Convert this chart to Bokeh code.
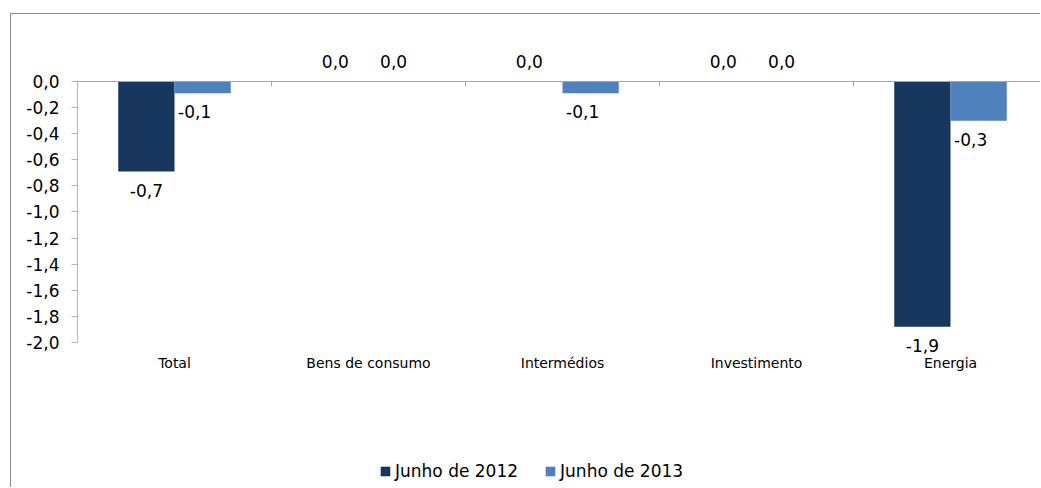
from bokeh.plotting import figure
from bokeh.models import (ColumnDataSource, Range1d, FixedTicker, LinearAxis,
                          LabelSet, Legend, LegendItem)
from bokeh.core.properties import value
from bokeh.transform import dodge
from bokeh.embed import file_html
from bokeh.resources import INLINE

# ---------------- data ----------------
categories = ["Total", "Bens de consumo", "Intermédios", "Investimento", "Energia"]
junho_2012 = [-0.69, 0.0, 0.0, 0.0, -1.88]
junho_2013 = [-0.09, 0.0, -0.09, 0.0, -0.30]
series_names = ["Junho de 2012", "Junho de 2013"]
y_ticks = [0.0, -0.2, -0.4, -0.6, -0.8, -1.0, -1.2, -1.4, -1.6, -1.8, -2.0]
y_tick_labels = ["0,0", "-0,2", "-0,4", "-0,6", "-0,8", "-1,0",
                 "-1,2", "-1,4", "-1,6", "-1,8", "-2,0"]

# ---------------- style ----------------
FONT = "DejaVu Sans"
DARK = "#17375E"
LIGHT = "#4F81BD"
TXT = "#000000"
AXC = "#b4b4b4"
BAR_W = 0.29
OFF = 0.145
Y_MIN, Y_MAX = y_ticks[-1], y_ticks[0]

p = figure(width=1030, height=474,
           x_range=Range1d(-0.5, 4.469), y_range=Range1d(-3.1188, 0.5134),
           output_backend="svg", toolbar_location=None,
           x_axis_location=None, y_axis_location=None,
           min_border_left=66, min_border_top=0,
           min_border_right=0, min_border_bottom=0)
p.outline_line_color = None
p.grid.visible = False
p.background_fill_color = "white"
p.border_fill_color = "white"
p.margin = (13, 0, 0, 10)
p.styles = {"border-top": "1px solid #8c8c8c", "border-left": "1px solid #8c8c8c"}

# y axis
yaxis = LinearAxis(ticker=FixedTicker(ticks=y_ticks), bounds=(Y_MIN, Y_MAX),
                   major_label_overrides=dict(zip(y_ticks, y_tick_labels)),
                   axis_line_color=AXC, major_tick_line_color=AXC,
                   major_tick_out=6, major_tick_in=0,
                   minor_tick_line_color=None,
                   major_label_standoff=12,
                   major_label_text_font=FONT,
                   major_label_text_font_size="17px",
                   major_label_text_color=TXT)
p.add_layout(yaxis, "left")

# category labels at the bottom of the value axis
cat_pos = list(range(len(categories)))
xaxis = LinearAxis(ticker=FixedTicker(ticks=cat_pos), fixed_location=Y_MIN,
                   major_label_overrides=dict(zip(cat_pos, categories)),
                   axis_line_color=None, major_tick_line_color=None,
                   minor_tick_line_color=None,
                   major_label_standoff=7,
                   major_label_text_font=FONT,
                   major_label_text_font_size="14px",
                   major_label_text_color=TXT)
p.add_layout(xaxis, "below")

# zero line with category separators
zaxis = LinearAxis(ticker=FixedTicker(ticks=[i + 0.5 for i in cat_pos]),
                   fixed_location=0,
                   axis_line_color="#a6a6a6", major_tick_line_color="#a6a6a6",
                   major_tick_in=0, major_tick_out=5,
                   minor_tick_line_color=None,
                   major_label_text_font_size="0px",
                   major_label_text_color=None)
p.add_layout(zaxis, "below")

src = ColumnDataSource(dict(x=cat_pos, v1=junho_2012, v2=junho_2013))
r1 = p.vbar(x=dodge("x", -OFF, range=p.x_range), top=0, bottom="v1",
            width=BAR_W, fill_color=DARK, line_color=None, source=src)
r2 = p.vbar(x=dodge("x", OFF, range=p.x_range), top=0, bottom="v2",
            width=BAR_W, fill_color=LIGHT, line_color=None, source=src)


def fmt(v):
    return f"{v:.1f}".replace(".", ",")


def add_labels(vals, offset, xoff_neg, xoff_zero):
    neg = dict(x=[], y=[], t=[])
    zer = dict(x=[], y=[], t=[])
    for i, v in enumerate(vals):
        d = neg if v < 0 else zer
        d["x"].append(i)
        d["y"].append(v)
        d["t"].append(fmt(v))
    for d, base, yo, xo in ((neg, "top", -12, xoff_neg), (zer, "bottom", 13, xoff_zero)):
        ls = LabelSet(x=dodge("x", offset, range=p.x_range), y="y", text="t",
                      source=ColumnDataSource(d), text_align="center",
                      text_baseline=base, y_offset=yo, x_offset=xo,
                      text_font=value(FONT), text_font_size="17px",
                      text_color=TXT)
        p.add_layout(ls)


add_labels(junho_2012, -OFF, 0, -5)
add_labels(junho_2013, OFF, -8, -3)

legend = Legend(items=[LegendItem(label=series_names[0], renderers=[r1]),
                       LegendItem(label=series_names[1], renderers=[r2])],
                orientation="horizontal", location=(302, 7),
                border_line_color=None, background_fill_alpha=0,
                padding=0, margin=0, spacing=26,
                glyph_width=12, glyph_height=12, label_standoff=4,
                label_height=20,
                label_text_font=FONT, label_text_font_size="17px",
                label_text_color=TXT)
p.add_layout(legend)

open("out.html", "w").write(file_html(p, INLINE))
